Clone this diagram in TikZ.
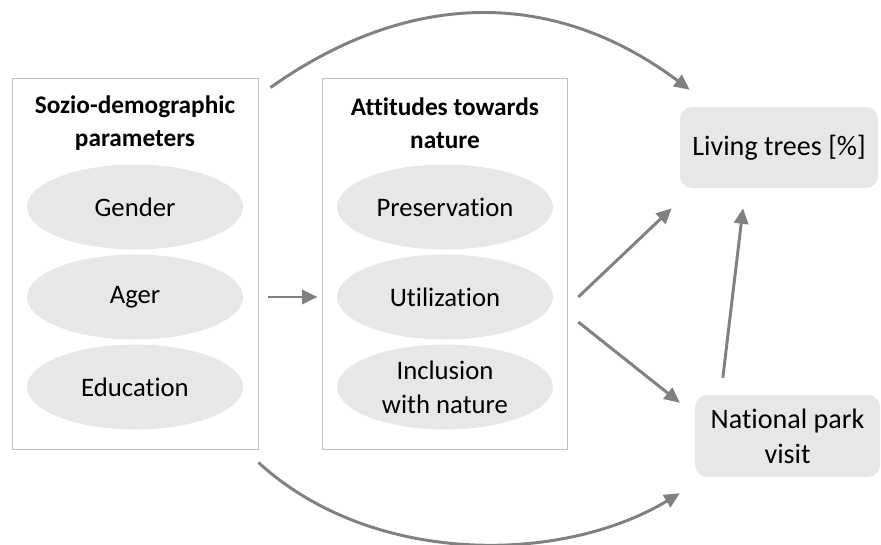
\documentclass[tikz,border=0pt]{standalone}
\usepackage{fontspec}
\setmainfont[Ligatures=NoCommon]{Carlito}
\usepackage{xcolor}
\usepackage{tikz}
\usetikzlibrary{shapes,arrows.meta,positioning,calc}

\definecolor{framegray}{HTML}{C0C0C0}
\definecolor{fillgray}{HTML}{E7E7E7}
\definecolor{arrowgray}{HTML}{808080}

\begin{document}
\begin{tikzpicture}[node distance=2.25cm, auto]
    % Define styles
    \tikzstyle{panel} = [rectangle, minimum width=6.15cm, minimum height=9.275cm, draw=framegray, line width=0.7pt]
    \tikzstyle{heading} = [align=center, font=\fontsize{18}{23.5}\selectfont\bfseries]
    \tikzstyle{factor} = [ellipse, minimum width=5.4cm, minimum height=2.125cm, inner sep=0pt, align=center, fill=fillgray, font=\fontsize{19}{24}\selectfont]
    \tikzstyle{outcome} = [rectangle, rounded corners=0.3cm, align=center, fill=fillgray, font=\fontsize{20}{25}\selectfont]
    \tikzstyle{link} = [draw=arrowgray, line width=2.1pt, -{Triangle[length=11pt, width=10pt]}]

    \useasboundingbox (0,0) rectangle (22.025,-13.625);

    % Nodes
    \node[panel] (socio) at (3.375,-6.5875) {};
    \node[panel, minimum width=6.125cm] (attitudes) at (11.1125,-6.5875) {};
    \node[heading] (socio_title) at (3.375,-3.075) {Sozio-demographic\\parameters};
    \node[heading] (att_title) at (11.125,-3.075) {Attitudes towards\\nature};
    \node[factor, below of=socio_title, yshift=0.15cm] (gender) {Gender};
    \node[factor, below of=gender] (ager) {Ager};
    \node[factor, below of=ager] (education) {Education};
    \node[factor, below of=att_title, yshift=0.15cm] (preservation) {Preservation};
    \node[factor, below of=preservation] (utilization) {Utilization};
    \node[factor, below of=utilization] (inclusion) {Inclusion\\with nature};
    \node[outcome, minimum width=4.95cm, minimum height=2.025cm] (trees) at (19.475,-3.6875) {Living trees [\%]};
    \node[outcome, minimum width=4.625cm, minimum height=2.05cm] (park) at (19.69,-10.9) {National park\\visit};

    % Connections
    \draw[link] ($(socio.north east)+(0.3,-0.25)$) .. controls +(3.5,2.475) and +(-3.375,2.525) .. ($(trees.north west)+(0.25,0.425)$);
    \draw[link] ($(socio.south east)+(0,-0.325)$) .. controls +(2.8,-2.575) and +(-3,-1.8) .. ($(park.south west)+(-0.375,-0.4)$);
    \draw[link] ($(ager.east -| socio.east)+(0.25,0)$) -- ($(ager.east -| attitudes.west)+(-0.1,0)$);
    \draw[link] ($(utilization.east)+(0.625,0)$) -- ($(trees.south west)+(-0.2,-0.5)$);
    \draw[link] ($(utilization.east)+(0.625,-0.625)$) -- ($(park.north west)+(-0.375,-0.2)$);
    \draw[link] ($(park.north west)+(0.7,0.425)$) -- ($(trees.south)+(-0.9,-0.5)$);
\end{tikzpicture}
\end{document}
